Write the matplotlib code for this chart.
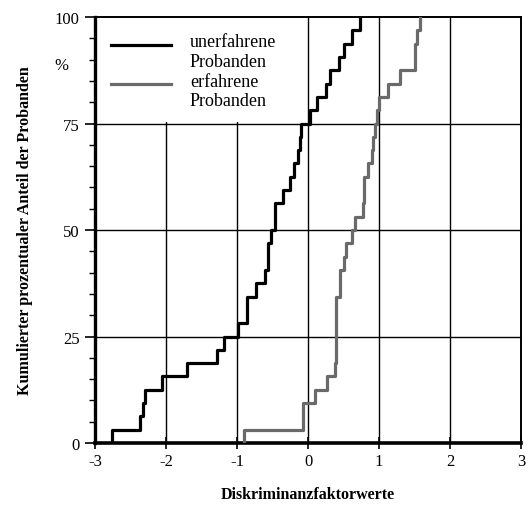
import numpy as np
import matplotlib.pyplot as plt
from matplotlib.patches import Rectangle
from matplotlib.legend_handler import HandlerLine2D

# Diskriminanzfaktorwerte je Proband (sortiert)
unerfahren = [-2.76, -2.37, -2.32, -2.29, -2.05, -1.70, -1.28, -1.19,
              -0.99, -0.86, -0.86, -0.73, -0.61, -0.57, -0.57, -0.52,
              -0.46, -0.46, -0.35, -0.25, -0.20, -0.14, -0.12, -0.10,
              0.03, 0.12, 0.26, 0.31, 0.44, 0.51, 0.62, 0.73]
erfahren = [-0.90, -0.07, -0.07, 0.105, 0.27, 0.38, 0.40, 0.40,
            0.40, 0.40, 0.40, 0.45, 0.45, 0.50, 0.53, 0.62,
            0.66, 0.77, 0.79, 0.79, 0.85, 0.895, 0.92, 0.95,
            0.975, 1.00, 1.12, 1.30, 1.50, 1.50, 1.54, 1.57]

x_ticks = [-3, -2, -1, 0, 1, 2, 3]
y_ticks = [0, 25, 50, 75, 100]

plt.rcParams['font.family'] = ['Liberation Serif', 'DejaVu Serif']


def kumuliert(werte):
    werte = np.sort(np.asarray(werte))
    n = len(werte)
    prozent = np.arange(1, n + 1) / n * 100
    return np.r_[werte[0], werte], np.r_[0, prozent]


class HandlerOben(HandlerLine2D):
    # Linie auf Hoehe der ersten Textzeile
    def create_artists(self, legend, orig_handle, xdescent, ydescent,
                       width, height, fontsize, trans):
        return super().create_artists(legend, orig_handle, xdescent,
                                      ydescent - 0.8 * fontsize, width,
                                      height, fontsize, trans)


fig = plt.figure(figsize=(5.29, 5.06), dpi=100)
ax = fig.add_axes([0.1796, 0.1225, 0.8054, 0.8419])

ax.set_xlim(-3, 3)
ax.set_ylim(0, 100)
ax.set_xticks(x_ticks)
ax.set_xticklabels([str(t) for t in x_ticks])
ax.set_yticks(y_ticks)
ax.set_yticks(np.arange(0, 101, 5), minor=True)

for t in x_ticks[1:-1]:
    ax.axvline(t, color='black', linewidth=1.0, zorder=1)
for t in y_ticks[1:-1]:
    ax.axhline(t, color='black', linewidth=1.0, zorder=1)

# weisse Flaeche hinter der Legende
ax.add_patch(Rectangle((-3, 75.3), 2.69, 24.7, facecolor='white',
                       edgecolor='none', zorder=2))

x1, y1 = kumuliert(unerfahren)
x2, y2 = kumuliert(erfahren)
l1, = ax.step(x1, y1, where='post', color='black', linewidth=2.3, zorder=3,
              label='unerfahrene\nProbanden')
l2, = ax.step(x2, y2, where='post', color='#6a6a6a', linewidth=2.3, zorder=3,
              label='erfahrene\nProbanden')

leg = ax.legend(loc='upper left', bbox_to_anchor=(0.0, 1.0),
                frameon=False, fontsize=13, handlelength=3.3,
                handletextpad=1.05, labelspacing=0.15,
                handler_map={l1: HandlerOben(), l2: HandlerOben()})
leg.set_zorder(4)

ax.spines['bottom'].set_linewidth(2.6)
ax.spines['left'].set_linewidth(2.4)
ax.spines['top'].set_linewidth(1.4)
ax.spines['right'].set_linewidth(1.4)

ax.tick_params(axis='x', which='major', direction='inout', length=9,
               width=1.2, labelsize=12, pad=3)
ax.tick_params(axis='y', which='major', direction='out', length=7,
               width=1.2, labelsize=12, pad=4)
ax.tick_params(axis='y', which='minor', direction='out', length=4, width=1.0)

ax.text(-0.08, 0.888, '%', transform=ax.transAxes, ha='center',
        va='center', fontsize=12)

ax.set_xlabel('Diskriminanzfaktorwerte', fontsize=11.5, fontweight='bold',
              labelpad=12)
ax.set_ylabel('Kumulierter prozentualer Anteil der Probanden', fontsize=11.5,
              fontweight='bold', labelpad=16)

fig.savefig('out.png', dpi=100)
